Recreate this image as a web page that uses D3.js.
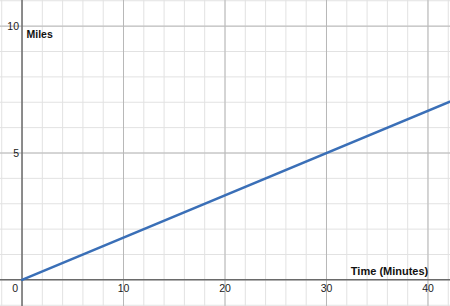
<!DOCTYPE html>
<html><head><meta charset="utf-8">
<script src="https://cdn.jsdelivr.net/npm/d3@7"></script>
<style>html,body{margin:0;padding:0;background:#fff;}svg{display:block;}</style>
</head><body>
<svg id="c" width="450" height="306"></svg>
<script>
const xDomain = [-2.17, 42.17];
const yDomain = [-1.03, 11.03];
const minorX = d3.range(-2, 44, 2);
const minorY = d3.range(-1, 12, 1);
const majorX = [0, 10, 20, 30, 40];
const majorY = [0, 5, 10];
const xTickLabels = [10, 20, 30, 40];
const yTickLabels = [5, 10];
const lineX = [0, 43];
const lineY = [0, 43 / 6];
const xTitle = "Time (Minutes)";
const yTitle = "Miles";

const W = 450, H = 306;
const svg = d3.select("#c");
const x = d3.scaleLinear().domain(xDomain).range([0, W]);
const y = d3.scaleLinear().domain(yDomain).range([H, 0]);
const font = "'Liberation Sans', Arial, sans-serif";

const g = svg.append("g");
g.selectAll(".mx").data(minorX).join("line")
  .attr("x1", d => x(d)).attr("x2", d => x(d)).attr("y1", 0).attr("y2", H)
  .attr("stroke", "#e2e2e2").attr("stroke-width", 1);
g.selectAll(".my").data(minorY).join("line")
  .attr("y1", d => y(d)).attr("y2", d => y(d)).attr("x1", 0).attr("x2", W)
  .attr("stroke", "#e2e2e2").attr("stroke-width", 1);
g.selectAll(".Mx").data(majorX.filter(d => d !== 0)).join("line")
  .attr("x1", d => x(d)).attr("x2", d => x(d)).attr("y1", 0).attr("y2", H)
  .attr("stroke", "#b8b8b8").attr("stroke-width", 1);
g.selectAll(".My").data(majorY.filter(d => d !== 0)).join("line")
  .attr("y1", d => y(d)).attr("y2", d => y(d)).attr("x1", 0).attr("x2", W)
  .attr("stroke", "#b8b8b8").attr("stroke-width", 1);
// axes
g.append("line").attr("x1", x(0)).attr("x2", x(0)).attr("y1", 0).attr("y2", H)
  .attr("stroke", "#6a6a6a").attr("stroke-width", 1.5);
g.append("line").attr("y1", y(0)).attr("y2", y(0)).attr("x1", 0).attr("x2", W)
  .attr("stroke", "#6a6a6a").attr("stroke-width", 1.5);

// tick labels
g.selectAll(".xl").data(xTickLabels).join("text")
  .attr("x", d => x(d)).attr("y", y(0) + 12.5)
  .attr("text-anchor", "middle").attr("font-family", font).attr("font-size", 10.5)
  .attr("fill", "#222").text(d => d);
g.selectAll(".yl").data(yTickLabels).join("text")
  .attr("x", x(0) - 3).attr("y", d => y(d) + 3.8)
  .attr("text-anchor", "end").attr("font-family", font).attr("font-size", 10.5)
  .attr("fill", "#222").text(d => d);
g.append("text").attr("x", x(0) - 4).attr("y", y(0) + 12.5)
  .attr("text-anchor", "end").attr("font-family", font).attr("font-size", 10.5)
  .attr("fill", "#222").text(0);

// titles
g.append("text").attr("x", x(0) + 4.5).attr("y", y(10) + 11.5)
  .attr("font-family", font).attr("font-size", 10.5).attr("font-weight", "bold")
  .attr("fill", "#111").text(yTitle);
g.append("text").attr("x", x(32.4)).attr("y", y(0) - 5)
  .attr("font-family", font).attr("font-size", 11).attr("font-weight", "bold")
  .attr("fill", "#111").text(xTitle);

// line
const pts = lineX.map((d, i) => [d, lineY[i]]);
g.append("path").datum(pts)
  .attr("d", d3.line().x(d => x(d[0])).y(d => y(d[1])))
  .attr("fill", "none").attr("stroke", "#3a6fb7").attr("stroke-width", 2.5)
  .attr("stroke-linecap", "round");
</script>
</body></html>
